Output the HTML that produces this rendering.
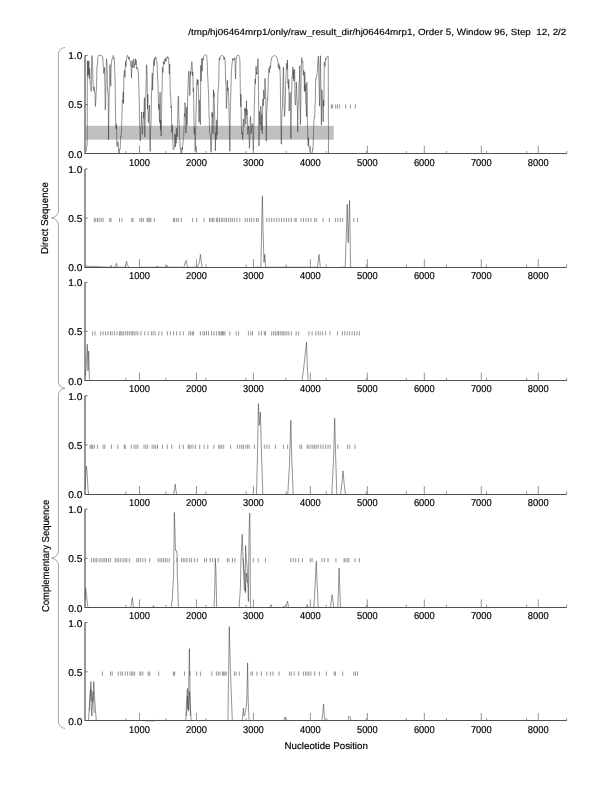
<!DOCTYPE html><html><head><meta charset="utf-8"><style>html,body{margin:0;padding:0;background:#fff;width:612px;height:792px;overflow:hidden}svg{display:block;will-change:transform}</style></head><body>
<svg width="612" height="792" viewBox="0 0 612 792">
<rect width="612" height="792" fill="#fff"/>
<style>text{font-family:"Liberation Sans",sans-serif;text-rendering:geometricPrecision;fill:#000;stroke:#000;stroke-width:0.18}</style>
<text x="566.3" y="35" style="stroke-width:0.15" font-size="9.0" text-anchor="end" textLength="378" lengthAdjust="spacingAndGlyphs">/tmp/hj06464mrp1/only/raw_result_dir/hj06464mrp1, Order 5, Window 96, Step&#160; 12, 2/2</text>
<rect x="85.70" y="125.8" width="248.00" height="13.9" fill="#bfbfbf"/>
<path d="M331.4 104.4v4.2M332.7 104.4v4.2M335.7 104.4v4.2M337.5 104.4v4.2M339.6 104.4v4.2M345.7 104.4v4.2M350.5 104.4v4.2M355.3 104.4v4.2" stroke="#686868" stroke-width="0.7" fill="none"/>
<path d="M85.9 151.83 L86.23 150.22 L86.55 146.88 L86.88 146.52 L87.2 144.97 L87.4 60.7 L87.8 76.37 L88.2 61.79 L88.5 74.55 L88.9 60.66 L89.3 78.42 L89.7 68.46 L90.1 83.61 L90.5 84.59 L90.9 85.72 L91.2 91.47 L91.5 67.99 L91.9 55.5 L92.4 60.19 L92.9 78.11 L93.4 88.25 L93.9 90.56 L94.2 86.97 L94.5 92.25 L95 92.29 L95.4 106.36 L95.8 101.92 L96.15 91.47 L96.5 89.9 L96.9 66.38 L97.3 66.05 L97.8 57.47 L98.2 56.48 L98.6 55.5 L98.94 55.43 L99.28 55.36 L99.64 55.36 L100.01 55.36 L100.37 55.36 L100.73 55.36 L101.1 55.36 L101.46 55.36 L101.8 56.05 L102.14 56.73 L102.49 57.41 L102.83 57.01 L103.15 64.12 L103.46 69.94 L103.78 73.43 L104.12 71.57 L104.46 67.51 L104.87 82.22 L105.28 109.83 L105.56 105.27 L105.83 92.22 L106.17 66.76 L106.51 58.83 L106.85 63.54 L107.19 68.44 L107.53 90.65 L107.87 90.47 L108.22 96.42 L108.56 139.76 L108.9 110.76 L109.24 91.73 L109.58 83.77 L109.92 64.57 L110.33 72.05 L110.74 86.13 L111.01 68.25 L111.29 65.08 L111.6 62.02 L111.92 58.96 L112.24 58.96 L112.6 57.99 L112.97 56.73 L113.33 55.36 L113.65 56.73 L113.97 59.28 L114.29 58.62 L114.7 70.79 L115.11 79.96 L115.45 108.65 L115.79 126.08 L116.13 128.89 L116.47 123.9 L116.88 146.62 L117.29 146.23 L117.65 141.9 L118.02 141.51 L118.38 147.1 L118.79 152.34 L119.2 153.46 L119.52 149.05 L119.83 149.6 L120.15 149.45 L120.47 140.45 L120.79 135.89 L121.11 136.5 L121.52 127.45 L121.93 117.47 L122.27 100.49 L122.61 101.78 L122.93 97.21 L123.25 91.62 L123.56 103.64 L123.88 75.43 L124.2 72.87 L124.52 70.36 L124.93 77.3 L125.34 66.86 L125.66 61.31 L125.97 66.26 L126.29 61.16 L126.66 57.76 L127.02 57.18 L127.38 55.36 L127.72 56.05 L128.07 56.73 L128.41 57.41 L128.75 59.29 L129.05 56.94 L129.36 58.7 L129.67 60.38 L129.98 60.24 L130.38 61.83 L130.79 65.87 L131.14 65.17 L131.48 78.12 L131.75 70.76 L132.02 60.78 L132.43 64.16 L132.84 67.62 L133.18 61.04 L133.52 58.9 L133.84 64.22 L134.16 67.87 L134.48 65.33 L134.82 63.24 L135.16 61.36 L135.48 58.78 L135.8 65.09 L136.11 60.2 L136.52 68.81 L136.93 69.01 L137.27 67.51 L137.62 68.25 L137.96 69.19 L138.3 71.32 L138.64 80.99 L138.98 89.62 L139.25 100.79 L139.53 122.29 L139.87 130.11 L140.21 140.72 L140.55 137.28 L140.89 127.13 L141.23 125.32 L141.57 112.04 L141.98 126.92 L142.39 134.45 L142.73 130.29 L143.07 123.73 L143.41 112.11 L143.75 118.27 L144.09 107.99 L144.43 97.65 L144.77 137.03 L145.12 122.38 L145.46 107.84 L145.8 93.57 L146.14 82.29 L146.55 64.7 L146.82 67.4 L147.09 75.49 L147.5 109.13 L147.84 94.16 L148.19 122.39 L148.53 122.7 L148.87 112.2 L149.21 109.91 L149.55 105.07 L149.89 146.54 L150.23 151.42 L150.57 128.93 L150.91 127.72 L151.26 108.51 L151.6 89.42 L151.94 83.88 L152.28 73.16 L152.62 90.29 L152.96 76.43 L153.3 70.45 L153.64 61.9 L153.98 59.74 L154.32 65.69 L154.67 57.97 L155.01 59.41 L155.33 57.12 L155.64 57.18 L155.96 56.73 L156.3 60.48 L156.64 60.51 L156.98 61.7 L157.33 71.06 L157.67 79.33 L158.01 84.36 L158.35 98.5 L158.69 109.39 L159.03 104.07 L159.37 117.31 L159.71 122.55 L160.05 92.32 L160.4 129.93 L160.74 119.84 L161.15 136.03 L161.49 118.47 L161.83 98.28 L162.17 85.72 L162.51 67.48 L162.85 72.54 L163.19 67.57 L163.51 61.18 L163.83 63.76 L164.15 62.69 L164.51 64.16 L164.87 59.07 L165.24 60.51 L165.58 58.33 L165.92 61.63 L166.26 59.12 L166.6 59.13 L166.94 57.27 L167.29 56.49 L167.63 58.24 L167.97 57.41 L168.29 57.32 L168.6 59.5 L168.92 64.03 L169.33 74.16 L169.74 63.99 L170.01 79.88 L170.29 92.86 L170.7 96.24 L171.11 107.78 L171.42 105.91 L171.74 132.47 L172.06 124.84 L172.4 129.92 L172.74 137.61 L173.06 145.97 L173.38 149.62 L173.7 149.91 L174.11 147.98 L174.52 145.13 L174.86 133.93 L175.2 136.02 L175.52 146.89 L175.83 135.04 L176.15 143.21 L176.49 128.38 L176.83 132.78 L177.18 136.77 L177.52 131.88 L177.86 107.7 L178.2 97 L178.54 96.24 L178.88 118.67 L179.22 123.79 L179.56 137.47 L179.88 140.38 L180.2 148.76 L180.52 148.28 L180.88 152.48 L181.25 151.73 L181.61 152.9 L181.97 147.39 L182.34 149.99 L182.7 145.51 L183.02 142.56 L183.34 138.33 L183.66 137.85 L184 128.96 L184.34 113.6 L184.68 116.43 L185.02 102.56 L185.36 108.49 L185.7 127.77 L186.04 133.11 L186.38 125.27 L186.73 107.14 L187.07 125.63 L187.41 113.19 L187.75 95.6 L188.09 84.4 L188.43 77.16 L188.77 71.17 L189.11 73.56 L189.45 86.9 L189.8 95.44 L190.14 84.92 L190.48 71.59 L190.82 74.51 L191.16 69.4 L191.5 64.77 L191.84 61.55 L192.18 65.28 L192.52 75.74 L192.86 71.84 L193.21 91.58 L193.55 88.19 L193.89 110.19 L194.23 134.05 L194.57 127.37 L194.91 139.92 L195.25 151.59 L195.59 137.2 L195.93 115.79 L196.28 108.57 L196.62 84.5 L196.96 81.64 L197.3 79.18 L197.64 84.91 L197.98 79.99 L198.32 89.53 L198.66 95.5 L199 122.16 L199.34 100.13 L199.68 101.01 L200.02 119.08 L200.37 124.6 L200.77 65.39 L201.12 81.3 L201.46 65.85 L201.8 58.36 L202.14 71.21 L202.48 63.35 L202.82 58.53 L203.16 60.33 L203.5 56.73 L203.82 56.27 L204.14 55.82 L204.46 55.36 L204.82 55.14 L205.19 54.91 L205.55 54.68 L205.91 54.91 L206.28 55.14 L206.64 55.36 L206.96 59.43 L207.28 62.49 L207.6 74.5 L207.94 81.22 L208.28 88.47 L208.62 93.84 L208.96 111.64 L209.3 120.43 L209.64 133.59 L209.98 134.66 L210.32 134.53 L210.67 145.19 L211.01 152.3 L211.35 146.27 L211.69 139.24 L212.03 112.34 L212.37 116.64 L212.71 112.95 L213.05 133.85 L213.46 89.67 L213.74 96.87 L214.01 92.39 L214.35 107.63 L214.69 116 L215.03 127.11 L215.37 150.81 L215.65 135.6 L215.92 132.74 L216.19 139.61 L216.46 130.72 L216.8 119.78 L217.15 135.27 L217.49 117.13 L217.83 95.16 L218.17 89.37 L218.51 86.94 L218.85 79.02 L219.19 57.91 L219.56 59.1 L219.92 59.82 L220.28 56.05 L220.61 55.91 L220.94 55.77 L221.27 55.64 L221.59 55.5 L221.92 55.36 L222.26 55.53 L222.6 55.7 L222.94 55.88 L223.29 56.05 L223.63 57.24 L223.97 59.81 L224.31 57.2 L224.65 59.03 L224.99 59.66 L225.33 66.7 L225.67 82.52 L226.01 82.13 L226.35 108.47 L226.7 104.17 L227.04 91.34 L227.38 80.22 L227.72 90.85 L228.06 87.72 L228.4 91.72 L228.74 101.18 L229.08 112.95 L229.42 130.54 L229.83 151.26 L230.11 122.28 L230.38 104.08 L230.65 101.26 L230.92 88.6 L231.2 77.21 L231.47 70.88 L231.81 66.4 L232.15 63.56 L232.49 60.51 L232.83 58.22 L233.2 60.54 L233.56 59.27 L233.93 58.91 L234.24 59.25 L234.56 59.23 L234.88 57.69 L235.22 67.01 L235.56 79 L235.9 64.07 L236.25 58.94 L236.56 57.18 L236.88 56.27 L237.2 55.36 L237.56 55.36 L237.91 55.36 L238.26 55.36 L238.62 55.36 L238.97 55.36 L239.29 56.73 L239.61 57.42 L239.93 60.94 L240.34 93.21 L240.75 106.7 L241.02 94.03 L241.29 121.29 L241.63 133.94 L241.98 134.17 L242.32 132.41 L242.66 139.43 L243 134.27 L243.34 119.21 L243.68 122.85 L244.02 126.51 L244.43 119.14 L244.84 107.86 L245.16 111.22 L245.48 108.79 L245.8 124.55 L246.14 112.63 L246.48 100.81 L246.75 115.26 L247.02 109.43 L247.3 117.66 L247.57 119.89 L247.84 134.43 L248.11 129.14 L248.46 125.91 L248.8 127.89 L249.14 138.23 L249.48 148.33 L249.82 140.23 L250.16 120.13 L250.5 116.25 L250.84 120.84 L251.18 133.55 L251.53 127.84 L251.91 127.66 L252.3 123.77 L252.68 127.01 L253.02 141.28 L253.36 150.08 L253.71 133.07 L254.05 119.27 L254.39 105.39 L254.73 92.84 L255.07 79.03 L255.41 83.63 L255.75 74.82 L256.09 66.27 L256.43 74.21 L256.77 72.36 L257.12 74.29 L257.46 65.37 L257.8 60.35 L258.14 58.68 L258.55 91.31 L258.82 146.11 L259.16 142.91 L259.5 111.59 L259.84 124.91 L260.19 125.1 L260.53 125.38 L260.87 106.15 L261.21 130.17 L261.55 119.27 L261.89 114.29 L262.23 133.68 L262.57 111.79 L262.91 98.94 L263.26 106.02 L263.6 90.18 L263.94 94.16 L264.28 98.88 L264.62 96.72 L264.96 78.37 L265.3 86.17 L265.64 92.19 L265.98 116.11 L266.32 141.35 L266.67 112.5 L267.01 109.06 L267.35 98.55 L267.69 99.5 L268.03 91.88 L268.37 77.7 L268.71 73.77 L269.05 68.15 L269.39 72.76 L269.74 66.85 L270.08 65.68 L270.42 68.42 L270.76 64.38 L271.1 59.55 L271.44 59.64 L271.78 57.46 L272.12 57.41 L272.46 56.73 L272.8 56.5 L273.15 56.27 L273.49 56.05 L273.83 55.82 L274.17 55.59 L274.51 55.36 L274.85 55.59 L275.19 55.82 L275.53 56.05 L275.87 56.27 L276.22 56.5 L276.56 56.73 L276.9 57.47 L277.24 58.88 L277.58 60.8 L277.92 61.14 L278.26 67.67 L278.6 65.28 L278.94 63.79 L279.29 69.53 L279.6 66.03 L279.92 67.96 L280.24 76.64 L280.65 106.73 L280.99 127.29 L281.33 144.21 L281.67 124.26 L282.01 111.66 L282.35 108.59 L282.7 92.04 L283.04 81.06 L283.38 67.04 L283.72 81.89 L284.06 103.95 L284.4 116.5 L284.74 114.58 L285.08 107.62 L285.42 99.92 L285.77 81.4 L286.11 72.61 L286.45 67.25 L286.79 63.32 L287.13 69.23 L287.47 59.81 L287.81 82.79 L288.15 81.88 L288.49 88.52 L288.83 79.37 L289.18 111.07 L289.52 101.35 L289.86 94.2 L290.2 92.46 L290.54 99.9 L290.88 138.63 L291.22 112.39 L291.56 97.73 L291.9 83.14 L292.25 74.1 L292.59 73.92 L292.93 66.88 L293.27 78.72 L293.61 70.01 L293.95 80.92 L294.29 71.82 L294.63 69.52 L294.97 99.62 L295.32 105.02 L295.66 102.69 L296 94.73 L296.34 82.13 L296.68 88.76 L297.02 99.36 L297.36 109.46 L297.7 131.86 L298.04 108.75 L298.38 104.54 L298.73 100.94 L299.07 82.08 L299.41 81.3 L299.75 65.75 L300.09 107.3 L300.43 124.6 L300.77 106.01 L301.11 78.3 L301.45 64.35 L301.8 57.63 L301.91 58.79 L302.32 62.47 L302.73 61.39 L303.07 70.61 L303.41 75.32 L303.75 70.37 L304.09 75.78 L304.43 91.48 L304.77 72.25 L305.12 90.83 L305.46 84.45 L305.8 103.3 L306.14 104.91 L306.48 116.5 L306.82 82.2 L307.16 95.9 L307.5 128.1 L307.84 138.61 L308.19 146.13 L308.53 137.68 L308.87 146.73 L309.21 146.98 L309.55 148.8 L309.89 149.74 L310.23 152.02 L310.57 151.96 L310.91 152.98 L311.26 153.32 L311.6 153.66 L311.94 152.98 L312.28 152.3 L312.62 148.84 L312.96 149.42 L313.3 138.98 L313.64 129.92 L313.98 120.11 L314.32 117.39 L314.67 117.88 L315.01 103.1 L315.35 101.89 L315.69 78.1 L316.03 78.44 L316.37 77.91 L316.71 76.32 L317.05 73.58 L317.39 70.39 L317.74 64.49 L318.08 59.36 L318.42 56.05 L318.76 70.73 L319.1 86.22 L319.51 106.08 L319.78 98.79 L320.05 63.52 L320.46 55.76 L320.87 88.58 L321.15 106.38 L321.42 125.15 L321.83 89.6 L322.17 94.15 L322.51 106.63 L322.85 110.25 L323.19 121.86 L323.53 99.75 L323.87 106.29 L324.28 62.43 L324.62 62.19 L324.97 66.3 L325.31 63.63 L325.65 58.6 L325.97 59.79 L326.28 57.87 L326.6 57.42 L326.97 57.41 L327.33 56.73 L327.69 56.05 L327.97 56.39 L328.24 56.73 L328.51 153.8" stroke="#3a3a3a" stroke-width="0.55" fill="none" stroke-linejoin="round"/>
<path d="M85.0 55.5V153.5" stroke="#505050" stroke-width="1.4" fill="none" opacity="0.85"/>
<path d="M84.5 153.5H566.7" stroke="#505050" stroke-width="1.2" fill="none"/>
<path d="M85.0 55.5h2.6M85.0 104.65h2.6" stroke="#505050" stroke-width="0.8" fill="none"/>
<path d="M139.47 153.8v-8M196.44 153.8v-8M253.41 153.8v-8M310.38 153.8v-8M367.35 153.8v-8M424.32 153.8v-8M481.29 153.8v-8M538.26 153.8v-8M125.87 153.8v-2.8M165.94 153.8v-2.8M206.01 153.8v-2.8M246.08 153.8v-2.8M286.15 153.8v-2.8M326.22 153.8v-2.8M366.29 153.8v-2.8M406.36 153.8v-2.8M446.43 153.8v-2.8M486.5 153.8v-2.8M526.57 153.8v-2.8M566.64 153.8v-2.8" stroke="#707070" stroke-width="0.75" fill="none"/>
<text x="82.4" y="59.45" font-size="9.9" textLength="14.2" lengthAdjust="spacingAndGlyphs" text-anchor="end">1.0</text>
<text x="82.4" y="108.4" font-size="9.9" textLength="14.2" lengthAdjust="spacingAndGlyphs" text-anchor="end">0.5</text>
<text x="82.4" y="158.05" font-size="9.9" textLength="14.2" lengthAdjust="spacingAndGlyphs" text-anchor="end">0.0</text>
<text x="139.47" y="165.6" font-size="10" text-anchor="middle" textLength="20.8" lengthAdjust="spacingAndGlyphs">1000</text>
<text x="196.44" y="165.6" font-size="10" text-anchor="middle" textLength="20.8" lengthAdjust="spacingAndGlyphs">2000</text>
<text x="253.41" y="165.6" font-size="10" text-anchor="middle" textLength="20.8" lengthAdjust="spacingAndGlyphs">3000</text>
<text x="310.38" y="165.6" font-size="10" text-anchor="middle" textLength="20.8" lengthAdjust="spacingAndGlyphs">4000</text>
<text x="367.35" y="165.6" font-size="10" text-anchor="middle" textLength="20.8" lengthAdjust="spacingAndGlyphs">5000</text>
<text x="424.32" y="165.6" font-size="10" text-anchor="middle" textLength="20.8" lengthAdjust="spacingAndGlyphs">6000</text>
<text x="481.29" y="165.6" font-size="10" text-anchor="middle" textLength="20.8" lengthAdjust="spacingAndGlyphs">7000</text>
<text x="538.26" y="165.6" font-size="10" text-anchor="middle" textLength="20.8" lengthAdjust="spacingAndGlyphs">8000</text>
<path d="M94.3 217.82v4.2M95.8 217.82v4.2M97.5 217.82v4.2M99.2 217.82v4.2M101.2 217.82v4.2M103.1 217.82v4.2M109.7 217.82v4.2M111 217.82v4.2M119.5 217.82v4.2M122 217.82v4.2M131.8 217.82v4.2M133 217.82v4.2M139.9 217.82v4.2M141.6 217.82v4.2M143.3 217.82v4.2M147.2 217.82v4.2M148.2 217.82v4.2M149.7 217.82v4.2M150.9 217.82v4.2M154.3 217.82v4.2M173.5 217.82v4.2M174.7 217.82v4.2M176.6 217.82v4.2M178.4 217.82v4.2M181.3 217.82v4.2M192.6 217.82v4.2M196.7 217.82v4.2M204.1 217.82v4.2M209.5 217.82v4.2M211 217.82v4.2M212.7 217.82v4.2M213.9 217.82v4.2M216.4 217.82v4.2M217.6 217.82v4.2M219.5 217.82v4.2M221.3 217.82v4.2M222.9 217.82v4.2M224.9 217.82v4.2M226.6 217.82v4.2M228.6 217.82v4.2M230.6 217.82v4.2M232.3 217.82v4.2M234.4 217.82v4.2M236.9 217.82v4.2M239.8 217.82v4.2M245.2 217.82v4.2M247.2 217.82v4.2M249.6 217.82v4.2M251.6 217.82v4.2M254 217.82v4.2M256.5 217.82v4.2M258.2 217.82v4.2M266.8 217.82v4.2M269.2 217.82v4.2M271.7 217.82v4.2M274.1 217.82v4.2M276.6 217.82v4.2M279 217.82v4.2M281.5 217.82v4.2M283.9 217.82v4.2M286.4 217.82v4.2M288.8 217.82v4.2M291.3 217.82v4.2M295 217.82v4.2M296.2 217.82v4.2M301.1 217.82v4.2M303.5 217.82v4.2M306 217.82v4.2M308.4 217.82v4.2M310.9 217.82v4.2M314.6 217.82v4.2M316.3 217.82v4.2M323.1 217.82v4.2M329.3 217.82v4.2M335.4 217.82v4.2M337.8 217.82v4.2M340.3 217.82v4.2M342.7 217.82v4.2M353.8 217.82v4.2M357.5 217.82v4.2" stroke="#686868" stroke-width="0.7" fill="none"/>
<path d="M85.5 267.22 L86 266.24 L110 267.22 L111 265.25 L112 267.22 L115 267.22 L116.5 263.29 L117.5 267.22 L125 267.22 L126.5 261.32 L127.5 265.25 L129 267.22" stroke="#3a3a3a" stroke-width="0.55" fill="none"/>
<path d="M140 267.22 L155 267.22 L157.5 266.24 L159 267.22 L166 267.22 L167 265.25 L168.5 267.22 L184 267.22 L185.2 262.31 L186.2 260.34 L187 265.25 L187.8 267.22 L197 267.22 L199.5 262.31 L200.4 254.44 L201.2 261.32 L202 267.22" stroke="#3a3a3a" stroke-width="0.55" fill="none"/>
<path d="M255 267.22 L260.9 267.22 L262 213.16 L262.4 195.85 L263 227.9 L264 262.31 L264.8 254.44 L265.6 267.22 L317.5 267.22 L319 254.44 L320.3 267.22" stroke="#3a3a3a" stroke-width="0.55" fill="none"/>
<path d="M340 267.22 L345.2 267.22 L346.5 227.9 L347.2 204.31 L348.2 242.65 L349 218.07 L349.6 200.38 L350.6 267.22 L352 267.22" stroke="#3a3a3a" stroke-width="0.55" fill="none"/>
<path d="M85.0 168.92V267.5" stroke="#505050" stroke-width="1.4" fill="none" opacity="0.85"/>
<path d="M84.5 267.5H566.7" stroke="#505050" stroke-width="1.2" fill="none"/>
<path d="M85.0 168.92h2.6M85.0 218.07h2.6" stroke="#505050" stroke-width="0.8" fill="none"/>
<path d="M139.47 267.22v-8M196.44 267.22v-8M253.41 267.22v-8M310.38 267.22v-8M367.35 267.22v-8M424.32 267.22v-8M481.29 267.22v-8M538.26 267.22v-8M125.87 267.22v-2.8M165.94 267.22v-2.8M206.01 267.22v-2.8M246.08 267.22v-2.8M286.15 267.22v-2.8M326.22 267.22v-2.8M366.29 267.22v-2.8M406.36 267.22v-2.8M446.43 267.22v-2.8M486.5 267.22v-2.8M526.57 267.22v-2.8M566.64 267.22v-2.8" stroke="#707070" stroke-width="0.75" fill="none"/>
<text x="82.4" y="172.87" font-size="9.9" textLength="14.2" lengthAdjust="spacingAndGlyphs" text-anchor="end">1.0</text>
<text x="82.4" y="221.82" font-size="9.9" textLength="14.2" lengthAdjust="spacingAndGlyphs" text-anchor="end">0.5</text>
<text x="82.4" y="271.47" font-size="9.9" textLength="14.2" lengthAdjust="spacingAndGlyphs" text-anchor="end">0.0</text>
<text x="139.47" y="279.02" font-size="10" text-anchor="middle" textLength="20.8" lengthAdjust="spacingAndGlyphs">1000</text>
<text x="196.44" y="279.02" font-size="10" text-anchor="middle" textLength="20.8" lengthAdjust="spacingAndGlyphs">2000</text>
<text x="253.41" y="279.02" font-size="10" text-anchor="middle" textLength="20.8" lengthAdjust="spacingAndGlyphs">3000</text>
<text x="310.38" y="279.02" font-size="10" text-anchor="middle" textLength="20.8" lengthAdjust="spacingAndGlyphs">4000</text>
<text x="367.35" y="279.02" font-size="10" text-anchor="middle" textLength="20.8" lengthAdjust="spacingAndGlyphs">5000</text>
<text x="424.32" y="279.02" font-size="10" text-anchor="middle" textLength="20.8" lengthAdjust="spacingAndGlyphs">6000</text>
<text x="481.29" y="279.02" font-size="10" text-anchor="middle" textLength="20.8" lengthAdjust="spacingAndGlyphs">7000</text>
<text x="538.26" y="279.02" font-size="10" text-anchor="middle" textLength="20.8" lengthAdjust="spacingAndGlyphs">8000</text>
<path d="M92.6 331.24v4.2M95 331.24v4.2M100.7 331.24v4.2M103.1 331.24v4.2M105.6 331.24v4.2M108 331.24v4.2M110.5 331.24v4.2M112.2 331.24v4.2M114.6 331.24v4.2M117.1 331.24v4.2M119.5 331.24v4.2M120.8 331.24v4.2M122 331.24v4.2M123.7 331.24v4.2M125.7 331.24v4.2M127.6 331.24v4.2M129.3 331.24v4.2M131.1 331.24v4.2M132.5 331.24v4.2M134.2 331.24v4.2M136 331.24v4.2M137.9 331.24v4.2M140.9 331.24v4.2M144.8 331.24v4.2M148.2 331.24v4.2M151.4 331.24v4.2M153.1 331.24v4.2M155.1 331.24v4.2M158.8 331.24v4.2M161.9 331.24v4.2M167.3 331.24v4.2M170.3 331.24v4.2M173.5 331.24v4.2M176.6 331.24v4.2M180.1 331.24v4.2M183.3 331.24v4.2M188.9 331.24v4.2M190.6 331.24v4.2M192.3 331.24v4.2M193.6 331.24v4.2M200.4 331.24v4.2M202.9 331.24v4.2M204.6 331.24v4.2M206.5 331.24v4.2M208.5 331.24v4.2M211.5 331.24v4.2M213.9 331.24v4.2M216.4 331.24v4.2M218.8 331.24v4.2M220 331.24v4.2M221.3 331.24v4.2M222.5 331.24v4.2M223.7 331.24v4.2M224.9 331.24v4.2M229.8 331.24v4.2M236.1 331.24v4.2M238.6 331.24v4.2M248.4 331.24v4.2M250.8 331.24v4.2M252.5 331.24v4.2M258.9 331.24v4.2M261.4 331.24v4.2M264.3 331.24v4.2M265.5 331.24v4.2M271.7 331.24v4.2M273.6 331.24v4.2M275.3 331.24v4.2M277.1 331.24v4.2M278.5 331.24v4.2M280.2 331.24v4.2M282 331.24v4.2M283.4 331.24v4.2M285.1 331.24v4.2M286.9 331.24v4.2M288.8 331.24v4.2M291.3 331.24v4.2M296.2 331.24v4.2M298.6 331.24v4.2M308.9 331.24v4.2M312.1 331.24v4.2M315.8 331.24v4.2M318.2 331.24v4.2M320.2 331.24v4.2M322.6 331.24v4.2M325.6 331.24v4.2M330 331.24v4.2M337.4 331.24v4.2M342.3 331.24v4.2M344.7 331.24v4.2M347.2 331.24v4.2M349.6 331.24v4.2M352.1 331.24v4.2M354.5 331.24v4.2M357 331.24v4.2M359.4 331.24v4.2" stroke="#686868" stroke-width="0.7" fill="none"/>
<path d="M85.5 375.73 L86.5 360.98 L87.3 344.27 L88 370.81 L88.7 351.15 L89.4 378.67 L90.5 380.64" stroke="#3a3a3a" stroke-width="0.55" fill="none"/>
<path d="M302 380.64 L303.4 370.81 L305.5 351.15 L306.5 342.3 L307.3 365.9 L308.2 380.64 L310 380.64" stroke="#3a3a3a" stroke-width="0.55" fill="none"/>
<path d="M85.0 282.34V380.5" stroke="#505050" stroke-width="1.4" fill="none" opacity="0.85"/>
<path d="M84.5 380.5H566.7" stroke="#505050" stroke-width="1.2" fill="none"/>
<path d="M85.0 282.34h2.6M85.0 331.49h2.6" stroke="#505050" stroke-width="0.8" fill="none"/>
<path d="M139.47 380.64v-8M196.44 380.64v-8M253.41 380.64v-8M310.38 380.64v-8M367.35 380.64v-8M424.32 380.64v-8M481.29 380.64v-8M538.26 380.64v-8M125.87 380.64v-2.8M165.94 380.64v-2.8M206.01 380.64v-2.8M246.08 380.64v-2.8M286.15 380.64v-2.8M326.22 380.64v-2.8M366.29 380.64v-2.8M406.36 380.64v-2.8M446.43 380.64v-2.8M486.5 380.64v-2.8M526.57 380.64v-2.8M566.64 380.64v-2.8" stroke="#707070" stroke-width="0.75" fill="none"/>
<text x="82.4" y="286.29" font-size="9.9" textLength="14.2" lengthAdjust="spacingAndGlyphs" text-anchor="end">1.0</text>
<text x="82.4" y="335.24" font-size="9.9" textLength="14.2" lengthAdjust="spacingAndGlyphs" text-anchor="end">0.5</text>
<text x="82.4" y="384.89" font-size="9.9" textLength="14.2" lengthAdjust="spacingAndGlyphs" text-anchor="end">0.0</text>
<text x="139.47" y="392.44" font-size="10" text-anchor="middle" textLength="20.8" lengthAdjust="spacingAndGlyphs">1000</text>
<text x="196.44" y="392.44" font-size="10" text-anchor="middle" textLength="20.8" lengthAdjust="spacingAndGlyphs">2000</text>
<text x="253.41" y="392.44" font-size="10" text-anchor="middle" textLength="20.8" lengthAdjust="spacingAndGlyphs">3000</text>
<text x="310.38" y="392.44" font-size="10" text-anchor="middle" textLength="20.8" lengthAdjust="spacingAndGlyphs">4000</text>
<text x="367.35" y="392.44" font-size="10" text-anchor="middle" textLength="20.8" lengthAdjust="spacingAndGlyphs">5000</text>
<text x="424.32" y="392.44" font-size="10" text-anchor="middle" textLength="20.8" lengthAdjust="spacingAndGlyphs">6000</text>
<text x="481.29" y="392.44" font-size="10" text-anchor="middle" textLength="20.8" lengthAdjust="spacingAndGlyphs">7000</text>
<text x="538.26" y="392.44" font-size="10" text-anchor="middle" textLength="20.8" lengthAdjust="spacingAndGlyphs">8000</text>
<path d="M90.1 444.66v4.2M91.4 444.66v4.2M92.6 444.66v4.2M94.3 444.66v4.2M97.5 444.66v4.2M103.1 444.66v4.2M104.8 444.66v4.2M111.5 444.66v4.2M117.8 444.66v4.2M124.4 444.66v4.2M125.2 444.66v4.2M131.3 444.66v4.2M134.2 444.66v4.2M136 444.66v4.2M137.9 444.66v4.2M144 444.66v4.2M145.8 444.66v4.2M147.7 444.66v4.2M152.1 444.66v4.2M153.9 444.66v4.2M155.6 444.66v4.2M157.5 444.66v4.2M162.4 444.66v4.2M167.3 444.66v4.2M171.7 444.66v4.2M179.6 444.66v4.2M183.3 444.66v4.2M188.2 444.66v4.2M189.4 444.66v4.2M191.1 444.66v4.2M193.1 444.66v4.2M195.5 444.66v4.2M199.7 444.66v4.2M204.1 444.66v4.2M207.8 444.66v4.2M213.9 444.66v4.2M218.8 444.66v4.2M220 444.66v4.2M221.7 444.66v4.2M223.7 444.66v4.2M230.6 444.66v4.2M237.4 444.66v4.2M239.8 444.66v4.2M241.8 444.66v4.2M243.5 444.66v4.2M245.9 444.66v4.2M247.6 444.66v4.2M249.1 444.66v4.2M254.5 444.66v4.2M264.3 444.66v4.2M266.8 444.66v4.2M269.2 444.66v4.2M275.3 444.66v4.2M283.4 444.66v4.2M287.6 444.66v4.2M299.9 444.66v4.2M301.6 444.66v4.2M307.2 444.66v4.2M308.9 444.66v4.2M310.9 444.66v4.2M312.8 444.66v4.2M314.6 444.66v4.2M316.3 444.66v4.2M318.2 444.66v4.2M320.7 444.66v4.2M323.1 444.66v4.2M325.6 444.66v4.2M328 444.66v4.2M330 444.66v4.2M337.8 444.66v4.2M347.6 444.66v4.2M349.6 444.66v4.2M355 444.66v4.2" stroke="#686868" stroke-width="0.7" fill="none"/>
<path d="M85.3 489.14 L85.8 474.4 L86.4 466.04 L87.2 474.4 L88 489.14 L88.6 494.06" stroke="#3a3a3a" stroke-width="0.55" fill="none"/>
<path d="M173.5 494.06 L174.6 489.14 L175.2 484.23 L175.8 489.14 L176.5 494.06" stroke="#3a3a3a" stroke-width="0.55" fill="none"/>
<path d="M256.5 494.06 L257.5 454.74 L258.4 403.62 L259.3 425.25 L260.4 411.98 L261.5 454.74 L262.8 494.06" stroke="#3a3a3a" stroke-width="0.55" fill="none"/>
<path d="M287.8 494.06 L289.5 464.57 L290.8 420.34 L291.8 459.66 L293.2 494.06" stroke="#3a3a3a" stroke-width="0.55" fill="none"/>
<path d="M331.8 494.06 L333.5 459.66 L334.7 418.37 L335.6 454.74 L336.8 494.06" stroke="#3a3a3a" stroke-width="0.55" fill="none"/>
<path d="M340.5 494.06 L341.8 484.23 L343 470.96 L344.2 484.23 L345.4 494.06" stroke="#3a3a3a" stroke-width="0.55" fill="none"/>
<path d="M85.0 395.76V494.5" stroke="#505050" stroke-width="1.4" fill="none" opacity="0.85"/>
<path d="M84.5 494.5H566.7" stroke="#505050" stroke-width="1.2" fill="none"/>
<path d="M85.0 395.76h2.6M85.0 444.91h2.6" stroke="#505050" stroke-width="0.8" fill="none"/>
<path d="M139.47 494.06v-8M196.44 494.06v-8M253.41 494.06v-8M310.38 494.06v-8M367.35 494.06v-8M424.32 494.06v-8M481.29 494.06v-8M538.26 494.06v-8M125.87 494.06v-2.8M165.94 494.06v-2.8M206.01 494.06v-2.8M246.08 494.06v-2.8M286.15 494.06v-2.8M326.22 494.06v-2.8M366.29 494.06v-2.8M406.36 494.06v-2.8M446.43 494.06v-2.8M486.5 494.06v-2.8M526.57 494.06v-2.8M566.64 494.06v-2.8" stroke="#707070" stroke-width="0.75" fill="none"/>
<text x="82.4" y="399.71" font-size="9.9" textLength="14.2" lengthAdjust="spacingAndGlyphs" text-anchor="end">1.0</text>
<text x="82.4" y="448.66" font-size="9.9" textLength="14.2" lengthAdjust="spacingAndGlyphs" text-anchor="end">0.5</text>
<text x="82.4" y="498.31" font-size="9.9" textLength="14.2" lengthAdjust="spacingAndGlyphs" text-anchor="end">0.0</text>
<text x="139.47" y="505.86" font-size="10" text-anchor="middle" textLength="20.8" lengthAdjust="spacingAndGlyphs">1000</text>
<text x="196.44" y="505.86" font-size="10" text-anchor="middle" textLength="20.8" lengthAdjust="spacingAndGlyphs">2000</text>
<text x="253.41" y="505.86" font-size="10" text-anchor="middle" textLength="20.8" lengthAdjust="spacingAndGlyphs">3000</text>
<text x="310.38" y="505.86" font-size="10" text-anchor="middle" textLength="20.8" lengthAdjust="spacingAndGlyphs">4000</text>
<text x="367.35" y="505.86" font-size="10" text-anchor="middle" textLength="20.8" lengthAdjust="spacingAndGlyphs">5000</text>
<text x="424.32" y="505.86" font-size="10" text-anchor="middle" textLength="20.8" lengthAdjust="spacingAndGlyphs">6000</text>
<text x="481.29" y="505.86" font-size="10" text-anchor="middle" textLength="20.8" lengthAdjust="spacingAndGlyphs">7000</text>
<text x="538.26" y="505.86" font-size="10" text-anchor="middle" textLength="20.8" lengthAdjust="spacingAndGlyphs">8000</text>
<path d="M91.4 558.08v4.2M93.3 558.08v4.2M95 558.08v4.2M96.7 558.08v4.2M99.2 558.08v4.2M101.2 558.08v4.2M103.1 558.08v4.2M104.8 558.08v4.2M106.5 558.08v4.2M108.5 558.08v4.2M110.5 558.08v4.2M115.4 558.08v4.2M117.1 558.08v4.2M118.8 558.08v4.2M120.8 558.08v4.2M123.2 558.08v4.2M125.2 558.08v4.2M126.9 558.08v4.2M129.3 558.08v4.2M136.7 558.08v4.2M138.4 558.08v4.2M140.4 558.08v4.2M142.8 558.08v4.2M145.3 558.08v4.2M149.7 558.08v4.2M158 558.08v4.2M160 558.08v4.2M161.9 558.08v4.2M163.7 558.08v4.2M165.4 558.08v4.2M167.3 558.08v4.2M169.3 558.08v4.2M177.1 558.08v4.2M181.5 558.08v4.2M183.3 558.08v4.2M185 558.08v4.2M186.9 558.08v4.2M189.4 558.08v4.2M191.4 558.08v4.2M194.3 558.08v4.2M197.2 558.08v4.2M204.6 558.08v4.2M206.5 558.08v4.2M210.2 558.08v4.2M212.7 558.08v4.2M218.3 558.08v4.2M227.4 558.08v4.2M229.1 558.08v4.2M232.5 558.08v4.2M234.9 558.08v4.2M253.3 558.08v4.2M258.2 558.08v4.2M265.5 558.08v4.2M290.8 558.08v4.2M293.2 558.08v4.2M295.7 558.08v4.2M298.6 558.08v4.2M302.3 558.08v4.2M310.4 558.08v4.2M312.1 558.08v4.2M321.9 558.08v4.2M324.4 558.08v4.2M328 558.08v4.2M335.9 558.08v4.2M344 558.08v4.2M345.2 558.08v4.2M347.2 558.08v4.2M348.9 558.08v4.2M355 558.08v4.2M359.4 558.08v4.2" stroke="#686868" stroke-width="0.7" fill="none"/>
<path d="M85.3 599.62 L85.6 587.82 L86.6 595.68 L87.5 605.51 L88.5 607.48" stroke="#3a3a3a" stroke-width="0.55" fill="none"/>
<path d="M130.5 607.48 L131.5 603.55 L132.3 597.65 L133.1 604.53 L134 607.48" stroke="#3a3a3a" stroke-width="0.55" fill="none"/>
<path d="M152.5 607.48 L153.5 605.51 L154.5 607.48" stroke="#3a3a3a" stroke-width="0.55" fill="none"/>
<path d="M171.2 607.48 L172.3 598.63 L173.6 575.04 L174.3 512.42 L175 530.81 L175.5 550.47 L176.4 550.47 L177 553.41 L177.3 576.02 L177.7 582.9 L178.4 607.48" stroke="#3a3a3a" stroke-width="0.55" fill="none"/>
<path d="M214 607.48 L214.8 587.82 L215.3 558.33 L215.9 570.13 L216.7 607.48" stroke="#3a3a3a" stroke-width="0.55" fill="none"/>
<path d="M239.1 607.48 L240.4 587.82 L241 558.33 L242.2 534.25 L242.9 553.41 L243.6 573.08 L244.3 588.8 L245 590.77 L245.6 545.55 L246.3 559.31 L247 565.21 L247.7 577.99 L248.4 601.58 L249 533.75 L249.7 513.11 L250.1 531.79 L250.4 607.48" stroke="#3a3a3a" stroke-width="0.55" fill="none"/>
<path d="M243 558.33 L244.5 573.08 L245.5 592.74 L246.3 573.08 L247.5 582.9" stroke="#3a3a3a" stroke-width="0.55" fill="none"/>
<path d="M269.5 607.48 L271 604.53 L272 607.48" stroke="#3a3a3a" stroke-width="0.55" fill="none"/>
<path d="M281.5 607.48 L284 606.5 L286.5 604.53 L287.6 601.09 L288.5 607.48" stroke="#3a3a3a" stroke-width="0.55" fill="none"/>
<path d="M306.5 607.48 L307.2 604.53 L308 607.48" stroke="#3a3a3a" stroke-width="0.55" fill="none"/>
<path d="M313.9 607.48 L315.2 582.9 L316.3 561.28 L317.1 582.9 L318.2 607.48" stroke="#3a3a3a" stroke-width="0.55" fill="none"/>
<path d="M330.5 607.48 L331.4 599.62 L332.2 594.7 L333 601.58 L333.8 607.48" stroke="#3a3a3a" stroke-width="0.55" fill="none"/>
<path d="M337.8 607.48 L338.5 587.82 L339.1 568.16 L339.8 587.82 L340.5 607.48" stroke="#3a3a3a" stroke-width="0.55" fill="none"/>
<path d="M85.0 509.18V607.5" stroke="#505050" stroke-width="1.4" fill="none" opacity="0.85"/>
<path d="M84.5 607.5H566.7" stroke="#505050" stroke-width="1.2" fill="none"/>
<path d="M85.0 509.18h2.6M85.0 558.33h2.6" stroke="#505050" stroke-width="0.8" fill="none"/>
<path d="M139.47 607.48v-8M196.44 607.48v-8M253.41 607.48v-8M310.38 607.48v-8M367.35 607.48v-8M424.32 607.48v-8M481.29 607.48v-8M538.26 607.48v-8M125.87 607.48v-2.8M165.94 607.48v-2.8M206.01 607.48v-2.8M246.08 607.48v-2.8M286.15 607.48v-2.8M326.22 607.48v-2.8M366.29 607.48v-2.8M406.36 607.48v-2.8M446.43 607.48v-2.8M486.5 607.48v-2.8M526.57 607.48v-2.8M566.64 607.48v-2.8" stroke="#707070" stroke-width="0.75" fill="none"/>
<text x="82.4" y="513.13" font-size="9.9" textLength="14.2" lengthAdjust="spacingAndGlyphs" text-anchor="end">1.0</text>
<text x="82.4" y="562.08" font-size="9.9" textLength="14.2" lengthAdjust="spacingAndGlyphs" text-anchor="end">0.5</text>
<text x="82.4" y="611.73" font-size="9.9" textLength="14.2" lengthAdjust="spacingAndGlyphs" text-anchor="end">0.0</text>
<text x="139.47" y="619.28" font-size="10" text-anchor="middle" textLength="20.8" lengthAdjust="spacingAndGlyphs">1000</text>
<text x="196.44" y="619.28" font-size="10" text-anchor="middle" textLength="20.8" lengthAdjust="spacingAndGlyphs">2000</text>
<text x="253.41" y="619.28" font-size="10" text-anchor="middle" textLength="20.8" lengthAdjust="spacingAndGlyphs">3000</text>
<text x="310.38" y="619.28" font-size="10" text-anchor="middle" textLength="20.8" lengthAdjust="spacingAndGlyphs">4000</text>
<text x="367.35" y="619.28" font-size="10" text-anchor="middle" textLength="20.8" lengthAdjust="spacingAndGlyphs">5000</text>
<text x="424.32" y="619.28" font-size="10" text-anchor="middle" textLength="20.8" lengthAdjust="spacingAndGlyphs">6000</text>
<text x="481.29" y="619.28" font-size="10" text-anchor="middle" textLength="20.8" lengthAdjust="spacingAndGlyphs">7000</text>
<text x="538.26" y="619.28" font-size="10" text-anchor="middle" textLength="20.8" lengthAdjust="spacingAndGlyphs">8000</text>
<path d="M102.4 671.5v4.2M110.5 671.5v4.2M112.2 671.5v4.2M118.3 671.5v4.2M120.8 671.5v4.2M122.5 671.5v4.2M125.2 671.5v4.2M127.6 671.5v4.2M130.1 671.5v4.2M131.8 671.5v4.2M133 671.5v4.2M134.7 671.5v4.2M139.9 671.5v4.2M140.9 671.5v4.2M142.8 671.5v4.2M148.2 671.5v4.2M149.7 671.5v4.2M158.8 671.5v4.2M173.5 671.5v4.2M174.7 671.5v4.2M184.5 671.5v4.2M189.9 671.5v4.2M196.7 671.5v4.2M200.4 671.5v4.2M211.9 671.5v4.2M216.4 671.5v4.2M218.3 671.5v4.2M220 671.5v4.2M222.5 671.5v4.2M223.7 671.5v4.2M224.9 671.5v4.2M226.2 671.5v4.2M234.4 671.5v4.2M236.1 671.5v4.2M239.3 671.5v4.2M250.8 671.5v4.2M252.5 671.5v4.2M257 671.5v4.2M261.4 671.5v4.2M266.8 671.5v4.2M270.4 671.5v4.2M272.9 671.5v4.2M279 671.5v4.2M289.6 671.5v4.2M291.3 671.5v4.2M294.2 671.5v4.2M298.6 671.5v4.2M303.5 671.5v4.2M305.5 671.5v4.2M307.2 671.5v4.2M308.9 671.5v4.2M310.9 671.5v4.2M314.6 671.5v4.2M319.5 671.5v4.2M326.3 671.5v4.2M334.2 671.5v4.2M335.4 671.5v4.2M342.7 671.5v4.2M353.8 671.5v4.2M355.5 671.5v4.2M357.5 671.5v4.2" stroke="#686868" stroke-width="0.7" fill="none"/>
<path d="M88.5 720.9 L89.9 696.32 L90.9 681.58 L91.8 701.24 L92.6 701.24 L93.8 681.58 L94.8 701.24 L96.3 720.9" stroke="#3a3a3a" stroke-width="0.55" fill="none"/>
<path d="M89.5 711.07 L90.7 689.44 L91.8 715.99 L93.2 691.41 L94.2 713.04" stroke="#3a3a3a" stroke-width="0.55" fill="none"/>
<path d="M145 720.9 L155 720.9 L156 719.92 L157 720.9" stroke="#3a3a3a" stroke-width="0.55" fill="none"/>
<path d="M185.7 720.9 L186.6 701.24 L187.4 688.46 L188 709.1 L188.7 686.5 L189.4 648.65 L190.2 701.24 L191.1 720.9" stroke="#3a3a3a" stroke-width="0.55" fill="none"/>
<path d="M186.5 715.99 L187.6 696.32 L188.6 711.07 L189.6 691.41 L190.5 715.99" stroke="#3a3a3a" stroke-width="0.55" fill="none"/>
<path d="M227.9 720.9 L228.6 671.75 L229.3 626.53 L230.2 661.92 L231.2 691.41 L232.3 720.9" stroke="#3a3a3a" stroke-width="0.55" fill="none"/>
<path d="M242.3 720.9 L243 713.04 L243.5 708.12 L244 715.99 L244.8 715 L245.6 711.07 L246.7 702.22 L247.6 662.9 L248.2 701.24 L249.1 720.9" stroke="#3a3a3a" stroke-width="0.55" fill="none"/>
<path d="M283.5 720.9 L285.1 716.97 L286.5 720.9" stroke="#3a3a3a" stroke-width="0.55" fill="none"/>
<path d="M321.8 720.9 L322.8 713.04 L323.6 704.19 L324.3 715.99 L325 720.9 L328 719.92 L329 720.9" stroke="#3a3a3a" stroke-width="0.55" fill="none"/>
<path d="M347.8 720.9 L348.6 716.97 L349.4 715.99 L350.2 716.97 L351 720.9" stroke="#3a3a3a" stroke-width="0.55" fill="none"/>
<path d="M85.0 622.6V720.5" stroke="#505050" stroke-width="1.4" fill="none" opacity="0.85"/>
<path d="M84.5 720.5H566.7" stroke="#505050" stroke-width="1.2" fill="none"/>
<path d="M85.0 622.6h2.6M85.0 671.75h2.6" stroke="#505050" stroke-width="0.8" fill="none"/>
<path d="M139.47 720.9v-8M196.44 720.9v-8M253.41 720.9v-8M310.38 720.9v-8M367.35 720.9v-8M424.32 720.9v-8M481.29 720.9v-8M538.26 720.9v-8M125.87 720.9v-2.8M165.94 720.9v-2.8M206.01 720.9v-2.8M246.08 720.9v-2.8M286.15 720.9v-2.8M326.22 720.9v-2.8M366.29 720.9v-2.8M406.36 720.9v-2.8M446.43 720.9v-2.8M486.5 720.9v-2.8M526.57 720.9v-2.8M566.64 720.9v-2.8" stroke="#707070" stroke-width="0.75" fill="none"/>
<text x="82.4" y="626.55" font-size="9.9" textLength="14.2" lengthAdjust="spacingAndGlyphs" text-anchor="end">1.0</text>
<text x="82.4" y="675.5" font-size="9.9" textLength="14.2" lengthAdjust="spacingAndGlyphs" text-anchor="end">0.5</text>
<text x="82.4" y="725.15" font-size="9.9" textLength="14.2" lengthAdjust="spacingAndGlyphs" text-anchor="end">0.0</text>
<text x="139.47" y="732.7" font-size="10" text-anchor="middle" textLength="20.8" lengthAdjust="spacingAndGlyphs">1000</text>
<text x="196.44" y="732.7" font-size="10" text-anchor="middle" textLength="20.8" lengthAdjust="spacingAndGlyphs">2000</text>
<text x="253.41" y="732.7" font-size="10" text-anchor="middle" textLength="20.8" lengthAdjust="spacingAndGlyphs">3000</text>
<text x="310.38" y="732.7" font-size="10" text-anchor="middle" textLength="20.8" lengthAdjust="spacingAndGlyphs">4000</text>
<text x="367.35" y="732.7" font-size="10" text-anchor="middle" textLength="20.8" lengthAdjust="spacingAndGlyphs">5000</text>
<text x="424.32" y="732.7" font-size="10" text-anchor="middle" textLength="20.8" lengthAdjust="spacingAndGlyphs">6000</text>
<text x="481.29" y="732.7" font-size="10" text-anchor="middle" textLength="20.8" lengthAdjust="spacingAndGlyphs">7000</text>
<text x="538.26" y="732.7" font-size="10" text-anchor="middle" textLength="20.8" lengthAdjust="spacingAndGlyphs">8000</text>
<path d="M65 47.5C61 48 58.4 50.5 58.4 54.5V210.9C58.4 214.9 55 217.4 51.5 217.9C55 218.4 58.4 220.9 58.4 224.9V381.3C58.4 385.3 61 387.8 65 388.3" stroke="#8a8a8a" stroke-width="0.8" fill="none"/>
<path d="M65 388.3C61 388.8 58.4 391.3 58.4 395.3V551.1C58.4 555.1 55 557.6 51.5 558.1C55 558.6 58.4 561.1 58.4 565.1V721.4C58.4 725.4 61 727.9 65 728.4" stroke="#8a8a8a" stroke-width="0.8" fill="none"/>
<text transform="translate(48.2 218.1) rotate(-90)" font-size="10" text-anchor="middle" textLength="72" lengthAdjust="spacingAndGlyphs">Direct Sequence</text>
<text transform="translate(48.6 555.9) rotate(-90)" font-size="10" text-anchor="middle" textLength="112.4" lengthAdjust="spacingAndGlyphs">Complementary Sequence</text>
<text x="326.2" y="748.7" font-size="9.7" text-anchor="middle" textLength="83.3" lengthAdjust="spacingAndGlyphs">Nucleotide Position</text>
</svg></body></html>
